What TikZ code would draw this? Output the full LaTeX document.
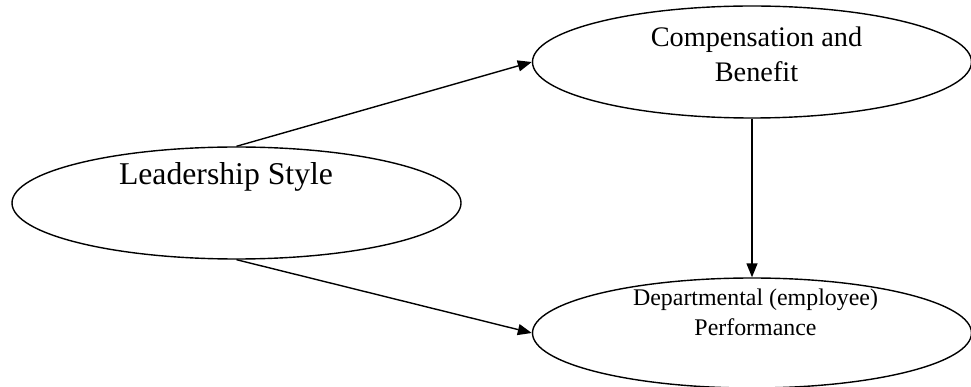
\documentclass[tikz,border=0pt]{standalone}
\usepackage{fontspec}
\setmainfont{Liberation Serif}
\usetikzlibrary{arrows.meta,shapes.geometric}
\begin{document}
\begin{tikzpicture}[x=1pt,y=-1pt,
  oval/.style={draw=black,line width=1.4pt,ellipse,inner sep=0pt},
  lbl/.style={anchor=base,inner sep=0pt,text=black},
  conn/.style={line width=1.4pt,-{Triangle[length=14pt,width=11pt]}}]
\useasboundingbox (0,0) rectangle (971,387);
\begin{scope}
\clip (0,0) rectangle (971,387);
\node[oval,minimum width=449pt,minimum height=112pt] (L) at (236.5,203) {};
\node[oval,minimum width=439pt,minimum height=112pt] (C) at (752,62) {};
\node[oval,minimum width=439pt,minimum height=110pt] (D) at (752,333) {};
\end{scope}
\node[lbl,font=\fontsize{31.7}{36}\selectfont] (lt) at (226,185) {Leadership Style};
\node[lbl,font=\fontsize{28.3}{34}\selectfont] (ct1) at (756.5,47) {Compensation and};
\node[lbl,font=\fontsize{28.3}{34}\selectfont] (ct2) at (756.5,82) {Benefit};
\node[lbl,font=\fontsize{23.9}{29}\selectfont] (dt1) at (755.5,305) {Departmental (employee)};
\node[lbl,font=\fontsize{23.9}{29}\selectfont] (dt2) at (755.5,335) {Performance};
\draw[conn] (L.north) -- (C.west);
\draw[conn] (L.south) -- (D.west);
\draw[conn] (C.south) -- (D.north);
\end{tikzpicture}
\end{document}
